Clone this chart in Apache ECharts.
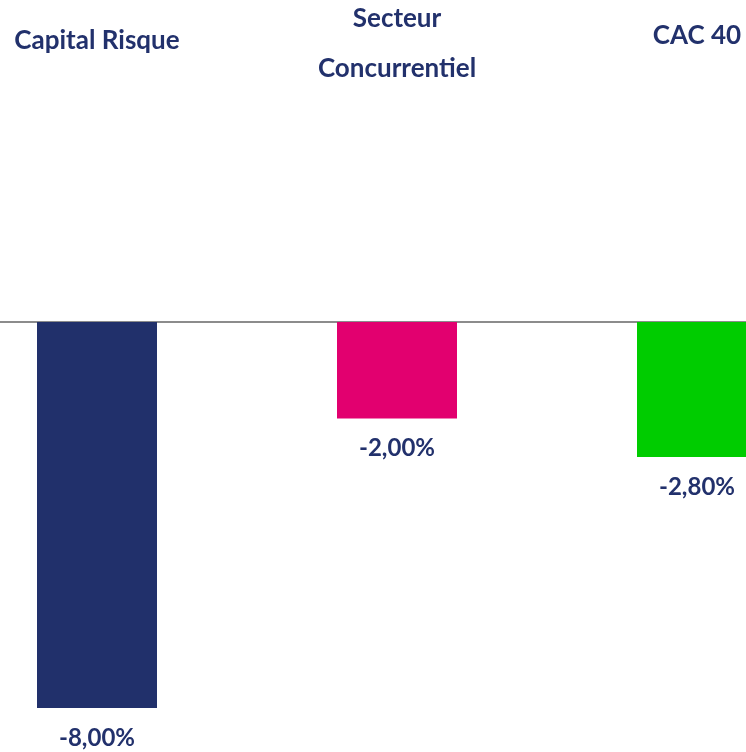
<!DOCTYPE html>
<html>
<head>
<meta charset="utf-8">
<script src="https://cdn.jsdelivr.net/npm/echarts@6/dist/echarts.min.js"></script>
<style>
  html, body { margin: 0; padding: 0; background: #fff; }
  #chart { width: 746px; height: 752px; }
</style>
</head>
<body>
<div id="chart"></div>
<script>
const categories = ["Capital Risque", "Secteur\nConcurrentiel", "CAC 40"];
const values = [-8.0, -2.0, -2.8];
const barColors = ["#21306b", "#e2006f", "#00cc00"];

const textColor = "#22316c";
const font = "Lato";

// extra bottom padding per category label, to lift single-line labels
const labelLift = [28, 0, 33];

const chart = echarts.init(document.getElementById("chart"));

const option = {
  animation: false,
  grid: {
    top: 322,
    bottom: 20,
    left: -53,
    width: 900,
    containLabel: false,
    outerBoundsMode: "none"
  },
  xAxis: [
    {
      type: "category",
      position: "top",
      data: categories,
      axisTick: { show: false },
      axisLabel: { show: false },
      axisLine: {
        lineStyle: { color: "#8c8c8c", width: 2 }
      }
    },
    {
      type: "category",
      position: "top",
      offset: 228,
      data: categories.map((c, i) => ({
        value: c,
        textStyle: { padding: [0, 0, labelLift[i], 0] }
      })),
      axisTick: { show: false },
      axisLine: { show: false },
      axisLabel: {
        margin: 0,
        interval: 0,
        color: textColor,
        fontFamily: font,
        fontWeight: "bold",
        fontSize: 26,
        lineHeight: 50
      }
    }
  ],
  yAxis: {
    type: "value",
    min: -8.5,
    max: 0,
    show: false,
    splitLine: { show: false }
  },
  series: [
    {
      type: "bar",
      xAxisIndex: 0,
      barWidth: 120,
      data: values.map((v, i) => ({
        value: v,
        itemStyle: { color: barColors[i] }
      })),
      label: {
        show: true,
        position: "bottom",
        distance: 18,
        color: textColor,
        fontFamily: font,
        fontWeight: "bold",
        fontSize: 24,
        formatter: p => p.value.toFixed(2).replace(".", ",") + "%"
      }
    }
  ]
};

chart.setOption(option);
</script>
</body>
</html>
